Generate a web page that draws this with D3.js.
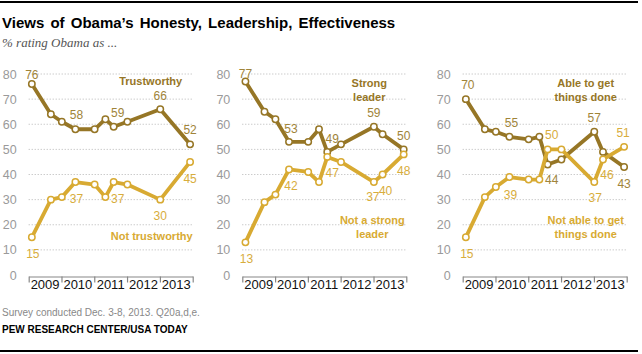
<!DOCTYPE html>
<html>
<head>
<meta charset="utf-8">
<script src="https://cdn.jsdelivr.net/npm/d3@7"></script>
<style>
  body { margin: 0; background: #fff; }
  svg { display: block; font-family: "Liberation Sans", Arial, sans-serif; }
</style>
</head>
<body>
<svg id="chart" width="642" height="354"></svg>
<script>
// Survey dates (the 2nd and 3rd panels have one extra survey in April 2013)
const datesA = ["2009-02-05", "2009-09-05", "2010-01-05", "2010-06-05", "2011-01-05",
                "2011-05-05", "2011-08-05", "2012-01-05", "2013-01-05", "2013-12-03"];
const datesB = ["2009-02-05", "2009-09-05", "2010-01-05", "2010-06-05", "2011-01-05",
                "2011-05-05", "2011-08-05", "2012-01-05", "2013-01-05", "2013-04-12", "2013-12-03"];

const years = ["2009", "2010", "2011", "2012", "2013"];
const yTicks = [0, 10, 20, 30, 40, 50, 60, 70, 80];

// % rating Obama as ...
const trustworthy    = [76, 64, 61, 58, 58, 62, 59, 61, 66, 52];
const notTrustworthy = [15, 30, 31, 37, 36, 31, 37, 36, 30, 45];
const strongLeader   = [77, 65, 62, 53, 53, 58, 49, 52, 59, 56, 50];
const notStrong      = [13, 29, 32, 42, 41, 37, 47, 45, 37, 40, 48];
const ableToGet      = [70, 58, 57, 55, 54, 55, 44, 46, 57, 49, 43];
const notAbleToGet   = [15, 31, 35, 39, 38, 38, 50, 50, 37, 46, 51];

const darkLine = "#967626", lightLine = "#d8aa32";
const darkText = "#a08439", lightText = "#d8ad3c";

const svg = d3.select("#chart");

// rules top and bottom
svg.append("line").attr("x1", 0).attr("x2", 638).attr("y1", 2).attr("y2", 2)
   .attr("stroke", "#000").attr("stroke-width", 2);
svg.append("line").attr("x1", 0).attr("x2", 638).attr("y1", 351).attr("y2", 351)
   .attr("stroke", "#000").attr("stroke-width", 2);

svg.append("text").attr("x", 2).attr("y", 28)
   .style("font-size", "15px").style("font-weight", "bold")
   .style("word-spacing", "2px").attr("fill", "#000")
   .text("Views of Obama\u2019s Honesty, Leadership, Effectiveness");
svg.append("text").attr("x", 2).attr("y", 47)
   .style("font-family", "'Liberation Serif', serif").style("font-style", "italic")
   .style("font-size", "13px").attr("fill", "#555")
   .text("% rating Obama as ...");

svg.append("text").attr("x", 2).attr("y", 316)
   .style("font-size", "10px").attr("fill", "#888")
   .text("Survey conducted Dec. 3-8, 2013. Q20a,d,e.");
svg.append("text").attr("x", 2).attr("y", 333)
   .style("font-size", "10px").style("font-weight", "bold").attr("fill", "#000")
   .text("PEW RESEARCH CENTER/USA TODAY");

const y = d3.scaleLinear().domain([0, 80]).range([275, 74]);

// each panel: placement of value labels {index: [dx, dy]}
const panels = [
  { left: 28.7, dates: datesA,
    dark:  { values: trustworthy, names: ["Trustworthy"], nx: 122, ny: 85,
             place: { 0: [0, -5], 3: [1, -10], 6: [4, -10], 8: [0, -9], 9: [0, -10] } },
    light: { values: notTrustworthy, names: ["Not trustworthy"], nx: 123, ny: 239.5,
             place: { 0: [1, 21], 3: [1, 21], 6: [4, 21], 8: [0, 20], 9: [0, 21] } } },
  { left: 242.3, dates: datesB,
    dark:  { values: strongLeader, names: ["Strong", "leader"], nx: 127, ny: 86.7,
             place: { 0: [0, -4], 3: [2, -9], 6: [5, -9], 8: [0, -10], 10: [0, -9.5] } },
    light: { values: notStrong, names: ["Not a strong", "leader"], nx: 130, ny: 224,
             place: { 0: [1, 21], 3: [2, 21], 6: [5, 20.5], 8: [-1, 19], 9: [3, 20], 10: [0, 21] } } },
  { left: 462.7, dates: datesB,
    dark:  { values: ableToGet, names: ["Able to get", "things done"], nx: 123, ny: 86.5,
             place: { 0: [2, -10], 3: [2, -9.5], 6: [4, 19.5], 8: [0, -10], 10: [0, 21.5] } },
    light: { values: notAbleToGet, names: ["Not able to get", "things done"], nx: 123, ny: 224,
             place: { 0: [1, 21], 3: [1, 22], 6: [4, -10], 8: [1, 20], 9: [4, 20], 10: [-1, -10] } } }
];

panels.forEach(function(p) {
  const g = svg.append("g");
  const x = d3.scaleTime()
      .domain([new Date(2009, 0, 1), new Date(2014, 0, 1)])
      .range([p.left, p.left + 164]);
  const parse = d3.timeParse("%Y-%m-%d");

  // gridlines
  g.selectAll("line.grid").data(yTicks.slice(1)).enter().append("line")
     .attr("x1", p.left).attr("x2", p.left + 164)
     .attr("y1", d => y(d)).attr("y2", d => y(d))
     .attr("stroke", "#b5b5b5").attr("stroke-dasharray", "1,2");

  // y labels
  g.selectAll("text.ytick").data(yTicks).enter().append("text")
     .attr("x", p.left - 12).attr("y", d => y(d) + 4.5)
     .attr("text-anchor", "end").style("font-size", "12.5px").attr("fill", "#9a9a9a")
     .text(d => d);

  // x axis
  const xaxis = d3.axisBottom(x)
      .tickValues(d3.range(2009, 2015).map(yr => new Date(yr, 0, 1)))
      .tickFormat("").tickSize(6).tickSizeOuter(0);
  const ax = g.append("g").attr("transform", "translate(0,276.5)").call(xaxis);
  ax.select(".domain").attr("stroke", "#888").attr("stroke-width", 1.2);
  ax.selectAll(".tick line").attr("stroke", "#888").attr("stroke-width", 1.2);

  g.selectAll("text.year").data(years).enter().append("text")
     .attr("x", d => (x(new Date(+d, 0, 1)) + x(new Date(+d + 1, 0, 1))) / 2)
     .attr("y", 289).attr("text-anchor", "middle")
     .style("font-size", "13px").attr("fill", "#111").text(d => d);

  [["dark", darkLine, darkText], ["light", lightLine, lightText]].forEach(function(s) {
    const ser = p[s[0]];
    const pts = ser.values.map((v, i) => ({ date: parse(p.dates[i]), value: v, i: i }));
    const line = d3.line().x(d => x(d.date)).y(d => y(d.value));

    g.append("path").datum(pts).attr("d", line)
       .attr("fill", "none").attr("stroke", s[1]).attr("stroke-width", 3.8)
       .attr("stroke-linejoin", "round");

    g.selectAll(null).data(pts).enter().append("circle")
       .attr("cx", d => x(d.date)).attr("cy", d => y(d.value)).attr("r", 3.2)
       .attr("fill", "#fff").attr("stroke", s[1]).attr("stroke-width", 1.5);

    g.selectAll(null).data(pts.filter(d => ser.place[d.i])).enter().append("text")
       .attr("x", d => x(d.date) + ser.place[d.i][0])
       .attr("y", d => y(d.value) + ser.place[d.i][1])
       .attr("text-anchor", "middle").style("font-size", "12px").attr("fill", s[2])
       .text(d => d.value);

    g.selectAll(null).data(ser.names).enter().append("text")
       .attr("x", p.left + ser.nx).attr("y", (d, k) => ser.ny + k * 14)
       .attr("text-anchor", "middle").style("font-size", "11px").style("font-weight", "bold")
       .attr("fill", s[0] == "dark" ? darkLine : lightLine)
       .text(d => d);
  });
});
</script>
</body>
</html>
